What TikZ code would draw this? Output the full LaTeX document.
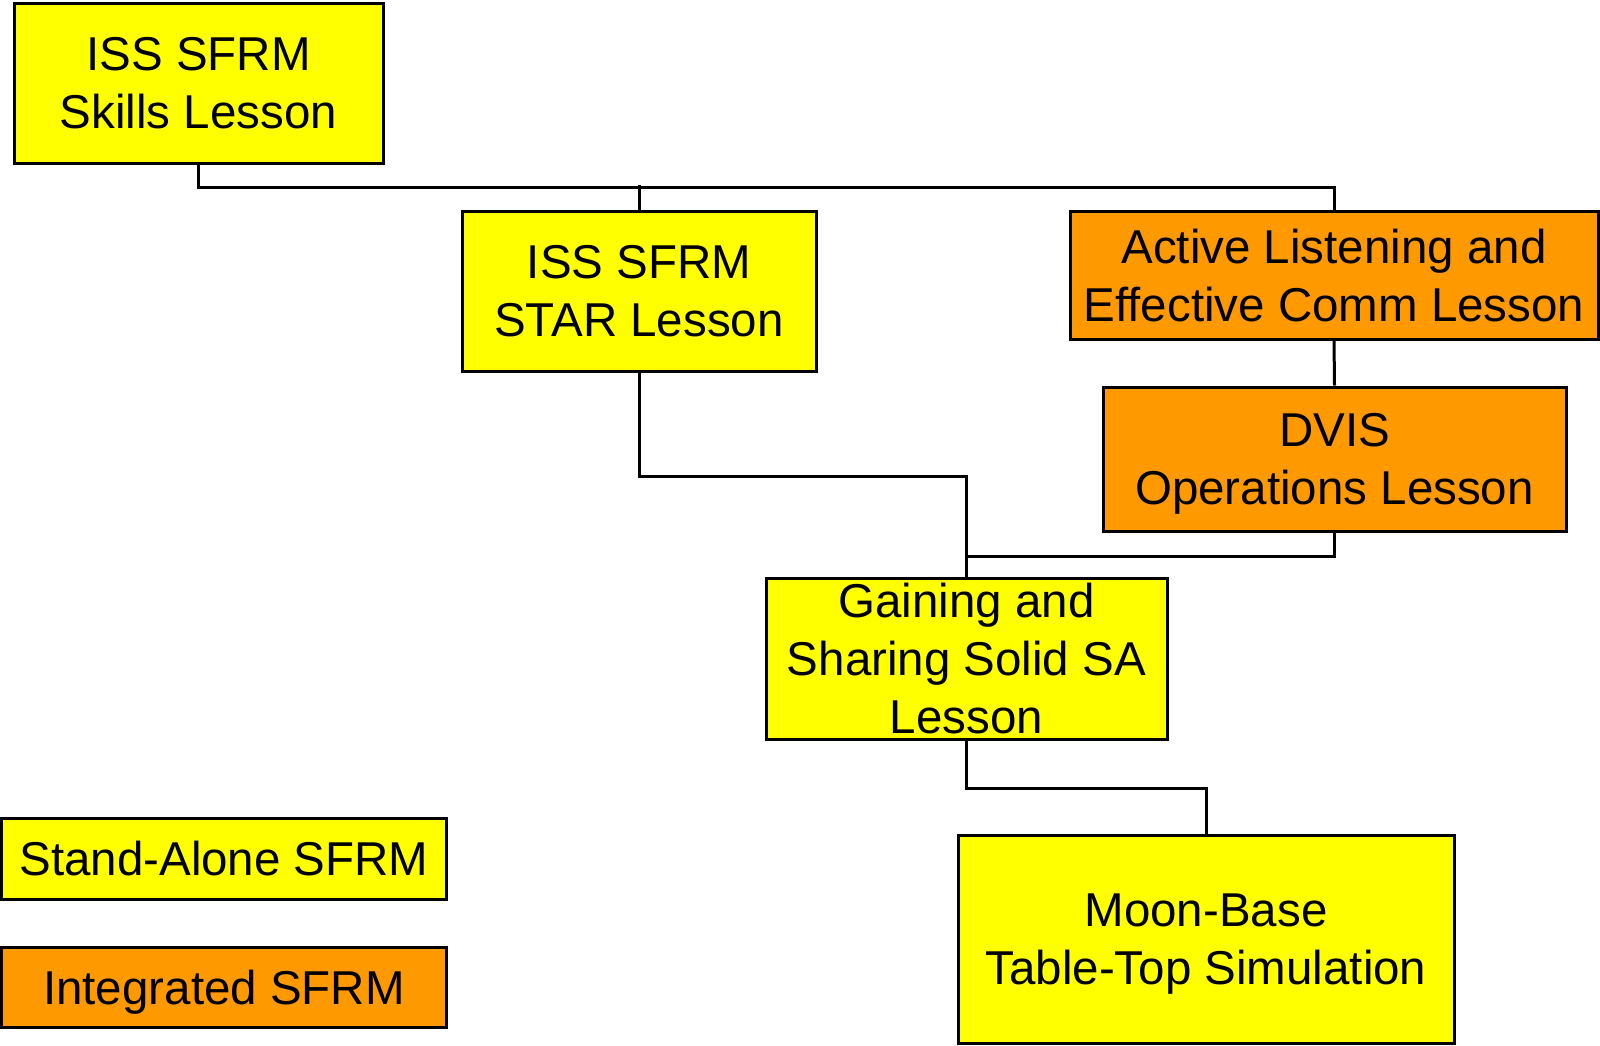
\documentclass[tikz,border=0pt]{standalone}
\usepackage{fontspec}
\setmainfont{Liberation Sans}
\definecolor{boxyellow}{HTML}{FFFF00}
\definecolor{boxorange}{HTML}{FF9900}
\begin{document}
\begin{tikzpicture}[x=1pt,y=-1pt,
  box/.style={draw=black, line width=3pt, inner sep=0pt, align=center,
    text depth=0pt, font=\fontsize{47.5}{58}\selectfont},
  ybox/.style={box, fill=boxyellow},
  obox/.style={box, fill=boxorange},
  conn/.style={draw=black, line width=3pt}]
\useasboundingbox (0,0) rectangle (1600,1045);
\node[ybox, minimum width=369pt, minimum height=160pt] (skills) at (198.5,83) {ISS SFRM\\Skills Lesson};
\node[ybox, minimum width=354pt, minimum height=160pt] (star) at (639,291) {ISS SFRM\\STAR Lesson};
\node[obox, minimum width=528pt, minimum height=128pt] (active) at (1334,275) {Active Listening and\\Effective Comm Lesson};
\node[obox, minimum width=463pt, minimum height=144pt] (dvis) at (1334.5,459) {DVIS\\Operations Lesson};
\node[ybox, minimum width=401pt, minimum height=161pt] (gain) at (966.5,658.5) {Gaining and\\Sharing Solid SA\\Lesson};
\node[ybox, minimum width=496pt, minimum height=208pt] (moon) at (1206,939) {Moon-Base\\Table-Top Simulation};
\node[ybox, minimum width=445pt, minimum height=81pt] (stand) at (224,858.5) {Stand-Alone SFRM};
\node[obox, minimum width=445pt, minimum height=80pt] (integ) at (224,987) {Integrated SFRM};
\draw[conn] (skills.south) -- ++(0,23) -| (active.north);
\draw[conn] (star.north) -- ++(0,-25);
\draw[conn] (active.south) -- (dvis.north);
\draw[conn] (star.south) -- ++(0,103.5) -| (gain.north);
\draw[conn] (dvis.south) -- ++(0,24) -| (gain.north);
\draw[conn] (gain.south) -- ++(0,48) -| (moon.north);
\end{tikzpicture}
\end{document}
